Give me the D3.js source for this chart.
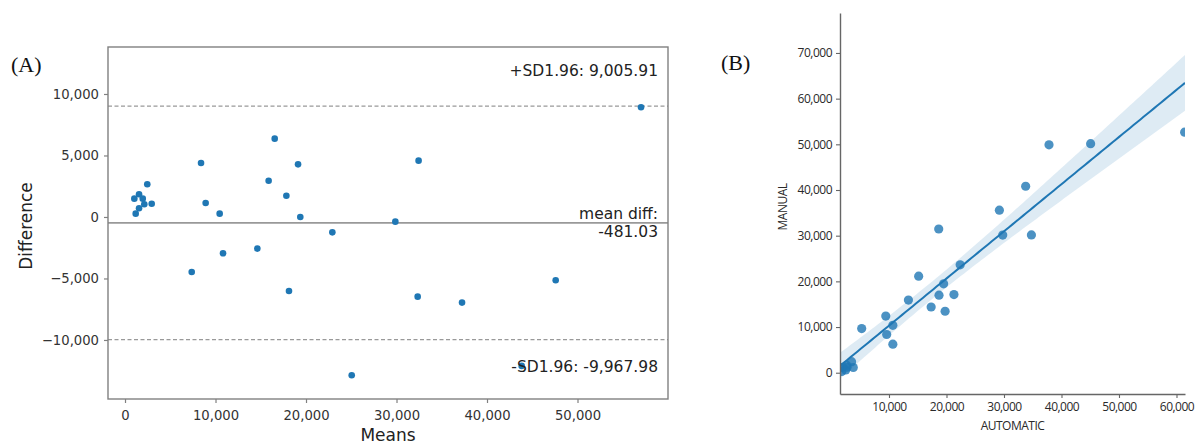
<!DOCTYPE html>
<html>
<head>
<meta charset="utf-8">
<script src="https://cdn.jsdelivr.net/npm/d3@7"></script>
<style>
  body { margin: 0; background: #fff; }
  svg { display: block; }
</style>
</head>
<body>
<div id="chart"></div>
<script>
// Panel A: Bland-Altman (means vs difference)
const meansA = [2460, 1550, 1030, 1960, 2950, 2130, 1550, 1180,
  8400, 8910, 10460, 10830, 7370, 14620, 15870, 16540, 17830, 19120, 19370, 22910,
  29870, 32440, 18120, 32340, 37240, 47590, 25050, 43830, 57020];
const diffsA = [2660, 1850, 1490, 1490, 1080, 1030, 710, 270,
  4390, 1140, 270, -2950, -4470, -2570, 2950, 6370, 1730, 4280, 0, -1250,
  -380, 4580, -6020, -6480, -6960, -5150, -12870, -12110, 8920];
const meanDiff = -481.03;
const sdUpper = 9005.91;
const sdLower = -9967.98;
const ticksAx = [0, 10000, 20000, 30000, 40000, 50000];
const ticksAy = [-10000, -5000, 0, 5000, 10000];

// Panel B: MANUAL vs AUTOMATIC with regression
const automatic = [3790, 2470, 1770, 2700, 3490, 2650, 1900, 1320,
  10670, 9600, 10670, 9440, 5250, 13380, 17330, 19760, 18700, 21300, 19500, 22380,
  29780, 34770, 15160, 29200, 33770, 45070, 18650, 37830, 61420];
const manual = [1140, 620, 280, 1210, 2410, 1620, 1190, 1050,
  6240, 8370, 10380, 12390, 9660, 15910, 14390, 13460, 16980, 17100, 19470, 23620,
  30130, 30170, 21140, 35590, 40820, 50140, 31460, 49890, 52650];
const ticksBx = [10000, 20000, 30000, 40000, 50000, 60000];
const ticksBy = [0, 10000, 20000, 30000, 40000, 50000, 60000, 70000];

const W = 1196, H = 444;
const blue = "#1f77b4";
const fmt = d3.format(",");

const svg = d3.select("#chart").append("svg")
  .attr("width", W).attr("height", H);
svg.append("rect").attr("width", W).attr("height", H).attr("fill", "#fff");

// ------------------------------------------------------------------ panel A
const a = { l: 108, r: 668, t: 47, b: 399 };
const xA = d3.scaleLinear().domain([-1880, 60000]).range([a.l, a.r]);
const yA = d3.scaleLinear().domain([-14800, 13820]).range([a.b, a.t]);

const gA = svg.append("g");

// reference lines
gA.append("line")
  .attr("x1", a.l).attr("x2", a.r)
  .attr("y1", yA(meanDiff)).attr("y2", yA(meanDiff))
  .attr("stroke", "#999").attr("stroke-width", 1.6);
[sdUpper, sdLower].forEach((v) => {
  gA.append("line")
    .attr("x1", a.l).attr("x2", a.r)
    .attr("y1", yA(v)).attr("y2", yA(v))
    .attr("stroke", "#999").attr("stroke-width", 1.2)
    .attr("stroke-dasharray", "4,2.5");
});

gA.selectAll("circle.pa")
  .data(meansA.map((m, i) => [m, diffsA[i]]))
  .enter().append("circle")
  .attr("class", "pa")
  .attr("cx", (d) => xA(d[0]))
  .attr("cy", (d) => yA(d[1]))
  .attr("r", 3.3)
  .attr("fill", blue);

// frame
gA.append("rect")
  .attr("x", a.l).attr("y", a.t)
  .attr("width", a.r - a.l).attr("height", a.b - a.t)
  .attr("fill", "none").attr("stroke", "#808080").attr("stroke-width", 1.4);

const axAx = gA.append("g")
  .attr("transform", "translate(0," + a.b + ")")
  .call(d3.axisBottom(xA).tickValues(ticksAx).tickFormat(fmt).tickSize(4).tickPadding(5));
const axAy = gA.append("g")
  .attr("transform", "translate(" + a.l + ",0)")
  .call(d3.axisLeft(yA).tickValues(ticksAy).tickFormat(fmt).tickSize(4).tickPadding(5));
[axAx, axAy].forEach((ax) => {
  ax.select(".domain").remove();
  ax.selectAll("line").attr("stroke", "#808080").attr("stroke-width", 1.2);
  ax.selectAll("text")
    .attr("fill", "#333")
    .style("font-family", "DejaVu Sans")
    .style("font-size", "13.2px");
});
axAx.selectAll("text").attr("dy", "0.9em");

const annA = (txt, y) => gA.append("text")
  .attr("x", 658).attr("y", y)
  .attr("text-anchor", "end")
  .attr("fill", "#222")
  .style("font-family", "DejaVu Sans")
  .style("font-size", "15.5px")
  .text(txt);
annA("+SD1.96: 9,005.91", 76);
annA("mean diff:", 219);
annA("-481.03", 237);
annA("-SD1.96: -9,967.98", 372);

gA.append("text")
  .attr("x", (a.l + a.r) / 2).attr("y", 441)
  .attr("text-anchor", "middle")
  .attr("fill", "#222")
  .style("font-family", "DejaVu Sans")
  .style("font-size", "17px")
  .text("Means");
gA.append("text")
  .attr("transform", "translate(32,226) rotate(-90)")
  .attr("text-anchor", "middle")
  .attr("fill", "#222")
  .style("font-family", "DejaVu Sans")
  .style("font-size", "17px")
  .text("Difference");

svg.append("text")
  .attr("x", 11).attr("y", 72)
  .style("font-family", "Liberation Serif")
  .style("font-size", "22px")
  .attr("fill", "#111")
  .text("(A)");

// ------------------------------------------------------------------ panel B
const b = { l: 840, r: 1185, t: 13, b: 394 };
const xB = d3.scaleLinear().domain([1480, 61480]).range([b.l, b.r]);
const yB = d3.scaleLinear().domain([-4660, 78750]).range([b.b, b.t]);

const gB = svg.append("g");
gB.append("clipPath").attr("id", "clipB")
  .append("rect")
  .attr("x", b.l).attr("y", b.t)
  .attr("width", b.r - b.l).attr("height", b.b - b.t);

// ordinary least squares fit with 95% confidence band
const n = automatic.length;
const mx = d3.mean(automatic), my = d3.mean(manual);
let sxx = 0, sxy = 0;
automatic.forEach((x, i) => {
  sxx += (x - mx) * (x - mx);
  sxy += (x - mx) * (manual[i] - my);
});
const slope = sxy / sxx;
const icpt = my - slope * mx;
let sse = 0;
automatic.forEach((x, i) => {
  const r = manual[i] - (icpt + slope * x);
  sse += r * r;
});
const se = Math.sqrt(sse / (n - 2));
const tCrit = 2.052;
const grid = d3.range(0, 101).map((k) => xB.domain()[0] + (k / 100) * (xB.domain()[1] - xB.domain()[0]));
const band = grid.map((x) => {
  const yh = icpt + slope * x;
  const h = tCrit * se * Math.sqrt(1 / n + (x - mx) * (x - mx) / sxx);
  return { x: x, y: yh, lo: yh - h, hi: yh + h };
});

const plotB = gB.append("g").attr("clip-path", "url(#clipB)");
plotB.append("path")
  .datum(band)
  .attr("d", d3.area().x((d) => xB(d.x)).y0((d) => yB(d.lo)).y1((d) => yB(d.hi)))
  .attr("fill", blue).attr("fill-opacity", 0.15);

plotB.selectAll("circle.pb")
  .data(automatic.map((x, i) => [x, manual[i]]))
  .enter().append("circle")
  .attr("class", "pb")
  .attr("cx", (d) => xB(d[0]))
  .attr("cy", (d) => yB(d[1]))
  .attr("r", 4.6)
  .attr("fill", blue).attr("fill-opacity", 0.8);

plotB.append("path")
  .datum(band)
  .attr("d", d3.line().x((d) => xB(d.x)).y((d) => yB(d.y)))
  .attr("fill", "none").attr("stroke", blue).attr("stroke-width", 2);

const axBx = gB.append("g")
  .attr("transform", "translate(0," + b.b + ")")
  .call(d3.axisBottom(xB).tickValues(ticksBx).tickFormat(fmt).tickSize(4).tickPadding(4).tickSizeOuter(0));
const axBy = gB.append("g")
  .attr("transform", "translate(" + b.l + ",0)")
  .call(d3.axisLeft(yB).tickValues(ticksBy).tickFormat(fmt).tickSize(4).tickPadding(4).tickSizeOuter(0));
[axBx, axBy].forEach((ax) => {
  ax.select(".domain").attr("stroke", "#666").attr("stroke-width", 1.4);
  ax.selectAll("line").attr("stroke", "#666").attr("stroke-width", 1.1);
  ax.selectAll("text")
    .attr("fill", "#2a2a2a")
    .style("font-family", "Open Sans")
    .style("font-size", "12px")
    .style("letter-spacing", "-0.5px");
});

gB.append("text")
  .attr("x", (b.l + b.r) / 2).attr("y", 430)
  .attr("text-anchor", "middle")
  .attr("fill", "#2a2a2a")
  .style("font-family", "Open Sans")
  .style("font-size", "12px")
  .style("letter-spacing", "-0.5px")
  .text("AUTOMATIC");
gB.append("text")
  .attr("transform", "translate(787,207) rotate(-90)")
  .attr("text-anchor", "middle")
  .attr("fill", "#2a2a2a")
  .style("font-family", "Open Sans")
  .style("font-size", "12px")
  .style("letter-spacing", "-0.5px")
  .text("MANUAL");

svg.append("text")
  .attr("x", 721).attr("y", 70)
  .style("font-family", "Liberation Serif")
  .style("font-size", "22px")
  .attr("fill", "#111")
  .text("(B)");
</script>
</body>
</html>
